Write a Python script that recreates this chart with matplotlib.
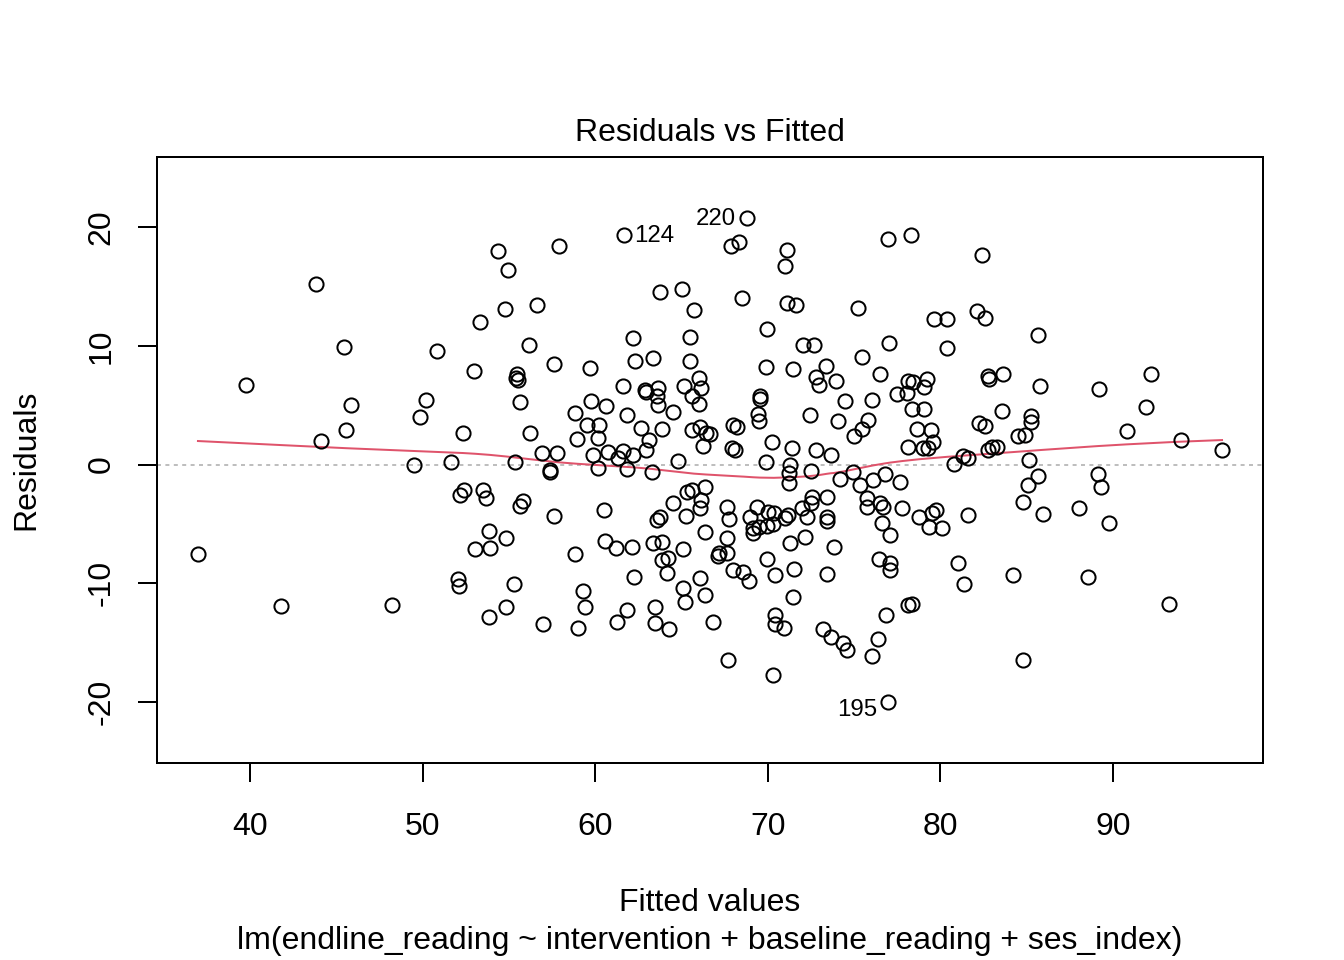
import numpy as np
import matplotlib
matplotlib.use("Agg")
import matplotlib.pyplot as plt

plt.rcParams['font.family'] = ['Liberation Sans', 'DejaVu Sans']
plt.rcParams['axes.unicode_minus'] = False

# fitted values and residuals
fitted = [
    36.99, 39.77, 41.80, 43.82, 44.11, 45.45, 45.56, 45.85, 48.23, 49.50,
    49.85, 50.20, 50.83, 51.65, 52.05, 52.11, 52.17, 52.40, 52.34, 52.98,
    53.04, 53.33, 53.50, 53.67, 53.85, 53.90, 53.85, 54.37, 54.83, 54.83,
    54.77, 54.95, 55.30, 55.35, 55.47, 55.41, 55.53, 55.64, 55.82, 55.64,
    56.16, 56.22, 56.63, 56.92, 57.79, 57.38, 57.38, 57.61, 57.61, 57.90,
    56.98, 58.83, 58.95, 58.83, 59.00, 59.29, 59.41, 59.52, 60.22, 59.70,
    59.76, 59.87, 60.16, 60.16, 60.51, 60.57, 60.63, 60.74, 61.20, 61.26,
    61.32, 61.61, 61.67, 61.61, 61.84, 61.84, 61.84, 62.13, 62.19, 62.19,
    62.25, 62.31, 62.65, 62.94, 62.88, 62.94, 63.12, 63.29, 63.35, 63.35,
    63.46, 63.46, 63.64, 63.58, 63.64, 63.58, 63.75, 63.75, 63.87, 63.87,
    63.87, 64.22, 64.16, 64.28, 64.51, 64.51, 64.80, 65.03, 65.09, 65.09,
    65.20, 65.14, 65.26, 65.32, 65.49, 65.49, 65.61, 65.61, 65.61, 65.72,
    66.01, 66.13, 66.01, 66.07, 66.13, 66.07, 66.07, 66.25, 66.36, 66.42,
    66.36, 66.36, 66.65, 66.83, 67.11, 67.17, 67.64, 67.64, 67.75, 67.64,
    67.69, 67.87, 68.33, 68.80, 67.93, 68.10, 67.98, 68.22, 67.98, 68.51,
    68.56, 68.91, 68.97, 69.14, 69.14, 69.37, 69.43, 69.49, 69.55, 69.55,
    69.49, 69.95, 69.90, 69.90, 69.95, 69.95, 70.01, 70.24, 70.30, 70.36,
    70.42, 70.42, 70.42, 70.30, 70.94, 71.00, 71.11, 71.11, 71.63, 71.00,
    71.17, 71.29, 71.23, 71.23, 71.29, 71.46, 71.46, 71.52, 71.40, 71.98,
    72.04, 72.16, 72.27, 72.44, 72.50, 72.50, 72.56, 72.68, 72.79, 72.79,
    72.97, 73.20, 73.37, 73.43, 73.43, 73.43, 73.43, 73.66, 73.66, 73.84,
    73.95, 74.07, 74.18, 74.36, 74.47, 74.59, 74.94, 74.99, 75.23, 75.34,
    75.46, 75.46, 75.81, 75.75, 75.75, 76.04, 76.04, 76.09, 76.38, 76.44,
    76.50, 76.50, 76.67, 76.85, 76.79, 76.62, 77.08, 77.08, 77.08, 77.02,
    76.96, 76.96, 78.30, 82.41, 79.63, 80.38, 82.12, 82.58, 85.65, 80.38,
    78.12, 78.41, 79.22, 79.05, 77.49, 78.07, 82.76, 82.82, 83.63, 85.77,
    89.19, 92.20, 78.35, 79.05, 83.57, 91.91, 78.64, 79.46, 82.24, 82.58,
    85.25, 85.25, 84.50, 84.90, 90.81, 78.12, 78.99, 79.28, 79.57, 81.31,
    81.60, 80.79, 82.76, 82.99, 83.28, 85.13, 93.94, 96.32, 77.66, 85.65,
    85.08, 89.13, 89.30, 77.78, 78.76, 79.51, 79.74, 79.34, 80.09, 81.60,
    84.79, 85.94, 88.03, 89.77, 81.02, 81.37, 84.21, 88.55, 78.12, 78.35,
    93.24, 84.79,
]
residuals = [
    -7.54, 6.69, -11.96, 15.20, 1.98, 9.89, 2.91, 5.01, -11.87, -0.04,
    4.00, 5.43, 9.56, 0.21, -9.64, -10.23, -2.57, -2.15, 2.65, 7.87,
    -7.12, 12.00, -2.15, -2.82, -5.60, -7.03, -12.84, 17.98, -6.19, -12.00,
    13.09, 16.38, -10.06, 0.21, 7.62, 7.28, 7.12, -3.49, -3.07, 5.26,
    10.06, 2.65, 13.43, 0.97, 0.97, -0.46, -0.63, 8.46, -4.34, 18.40,
    -13.43, 4.34, 2.15, -7.54, -13.77, -10.65, -12.00, 3.33, 3.33, 8.13,
    5.35, 0.80, 2.23, -0.29, -3.83, -6.44, 4.93, 1.05, -7.03, -13.26,
    0.55, 1.14, 19.33, 6.61, 4.17, -0.38, -12.25, -6.95, 10.65, 0.80,
    -9.47, 8.72, 3.07, 1.22, 6.27, 6.11, 2.06, -0.63, 8.97, -6.61,
    -12.00, -13.35, 6.44, 5.77, 5.01, -4.67, -4.42, 14.53, 2.99, -6.53,
    -8.04, -7.87, -9.14, -13.85, 4.42, -3.24, 0.29, 14.78, -7.12, -10.40,
    -11.58, 6.61, -4.34, -2.32, 10.74, 8.72, 5.77, 2.91, -2.15, 13.01,
    7.28, 6.44, 5.09, 3.16, -2.99, -3.66, -9.56, 1.56, -1.89, 2.65,
    -5.68, -10.99, 2.57, -13.26, -7.71, -7.45, -7.45, -3.58, -4.59, -6.19,
    -16.46, 18.40, 18.74, 20.76, 1.39, 1.22, 3.33, 3.16, -8.88, 14.02,
    -9.05, -9.81, -4.42, -5.35, -5.77, -3.58, 4.25, 3.66, 5.77, 5.52,
    -5.26, -5.18, 8.21, 0.21, 11.41, -7.96, -4.00, 1.89, -5.01, -4.08,
    -9.31, -12.67, -13.43, -17.73, -13.77, 16.72, 18.06, 13.60, 13.43, -4.51,
    -4.25, -0.04, -0.72, -1.56, -6.61, 8.04, -11.16, -8.80, 1.39, -3.66,
    10.06, -6.11, -4.42, 4.17, -0.55, -3.24, -2.74, 10.06, 7.37, 1.22,
    6.69, -13.85, 8.29, -2.74, -4.42, -4.76, -9.22, -14.53, 0.80, -6.95,
    7.03, 3.66, -1.22, -15.03, 5.35, -15.62, -0.63, 2.40, 13.18, -1.73,
    2.99, 9.05, 3.75, -2.82, -3.58, 5.43, -16.13, -1.31, -14.69, -7.96,
    7.62, -3.24, -3.58, -12.67, -0.80, -4.93, -5.94, -8.29, -8.88, 10.23,
    18.99, -20.00, 19.33, 17.64, 12.25, 12.25, 12.93, 12.34, 10.91, 9.81,
    7.03, 6.95, 7.20, 6.53, 5.94, 6.02, 7.45, 7.20, 7.62, 6.61,
    6.36, 7.62, 4.67, 4.67, 4.51, 4.84, 2.99, 2.91, 3.49, 3.24,
    4.08, 3.58, 2.40, 2.48, 2.82, 1.47, 1.39, 1.39, 1.89, 0.72,
    0.55, 0.04, 1.22, 1.47, 1.47, 0.38, 2.06, 1.22, -1.47, -0.97,
    -1.73, -0.80, -1.89, -3.66, -4.42, -4.08, -3.83, -5.26, -5.35, -4.25,
    -3.16, -4.17, -3.66, -4.93, -8.29, -10.06, -9.31, -9.47, -11.83, -11.75,
    -11.75, -16.46,
]
# the three flagged observations
id_labels = ["124", "220", "195"]
id_index = [72, 143, 241]

x = np.array(fitted)
y = np.array(residuals)


def lowess(x, y, f=2/3, iters=3):
    # plain lowess, same settings R uses in panel.smooth
    order = np.argsort(x)
    xs, ys = x[order], y[order]
    n = len(xs)
    k = max(min(int(round(f * n)), n), 2)
    robust = np.ones(n)
    fit = np.zeros(n)
    for it in range(iters + 1):
        for i in range(n):
            d = np.abs(xs - xs[i])
            h = np.sort(d)[k - 1]
            w = np.clip(d / h, 0, 1)
            w = (1 - w ** 3) ** 3 * robust
            sw = w.sum()
            mx = (w * xs).sum() / sw
            my = (w * ys).sum() / sw
            sxx = (w * (xs - mx) ** 2).sum()
            if sxx > 0:
                b = (w * (xs - mx) * (ys - my)).sum() / sxx
            else:
                b = 0.0
            fit[i] = my + b * (xs[i] - mx)
        res = ys - fit
        s = np.median(np.abs(res))
        u = np.clip(res / (6 * s), -1, 1)
        robust = (1 - u ** 2) ** 2
    return xs, fit


fig = plt.figure(figsize=(7, 5), dpi=192)
ax = fig.add_axes([157/1344, 1 - 763/960, (1263-157)/1344, (763-157)/960])

ax.axhline(0, color="#BEBEBE", lw=0.75, linestyle=(0, (2, 2.2)), zorder=1)
ax.plot(x, y, 'o', mfc='none', mec='black', ms=5.3, mew=0.75, zorder=3)
sx, sy = lowess(x, y)
ax.plot(sx, sy, color="#DF536B", lw=0.75, zorder=2)

mid = (x.min() + x.max()) / 2
offsets = {"124": (4, -0.5), "220": (-4, -0.5), "195": (-4, -3)}
for lab, i in zip(id_labels, id_index):
    ha = 'left' if x[i] < mid else 'right'
    ax.annotate(lab, (x[i], y[i]), xytext=offsets[lab], textcoords='offset points',
                ha=ha, va='center', fontsize=9)

# R style limits: extendrange for labels then 4% padding
xr = x.max() - x.min()
ax.set_xlim(x.min() - 0.04 * xr, x.max() + 0.04 * xr)
ylo, yhi = y.min(), y.max()
yr = yhi - ylo
ylo, yhi = ylo - 0.08 * yr, yhi + 0.08 * yr
yr = yhi - ylo
ax.set_ylim(ylo - 0.04 * yr, yhi + 0.04 * yr)

ax.set_xticks([40, 50, 60, 70, 80, 90])
ax.set_yticks([-20, -10, 0, 10, 20])
ax.tick_params(direction='out', length=7.2, width=0.75, labelsize=12, colors='black')
ax.tick_params(axis='x', pad=11)
ax.tick_params(axis='y', pad=8)
for t in ax.get_yticklabels():
    t.set_rotation(90)
    t.set_va('center')
for sp in ax.spines.values():
    sp.set_linewidth(0.75)

fig.text(710/1344, 1 - 133/960, "Residuals vs Fitted", ha='center', va='center', fontsize=12)
fig.text(710/1344, 1 - 903/960, "Fitted values", ha='center', va='center', fontsize=12)
fig.text(710/1344, 1 - 941/960, "lm(endline_reading ~ intervention + baseline_reading + ses_index)",
         ha='center', va='center', fontsize=12)
fig.text(26/1344, 1 - 460/960, "Residuals", ha='center', va='center', rotation=90, fontsize=12)

fig.savefig("out.png", dpi=192)
